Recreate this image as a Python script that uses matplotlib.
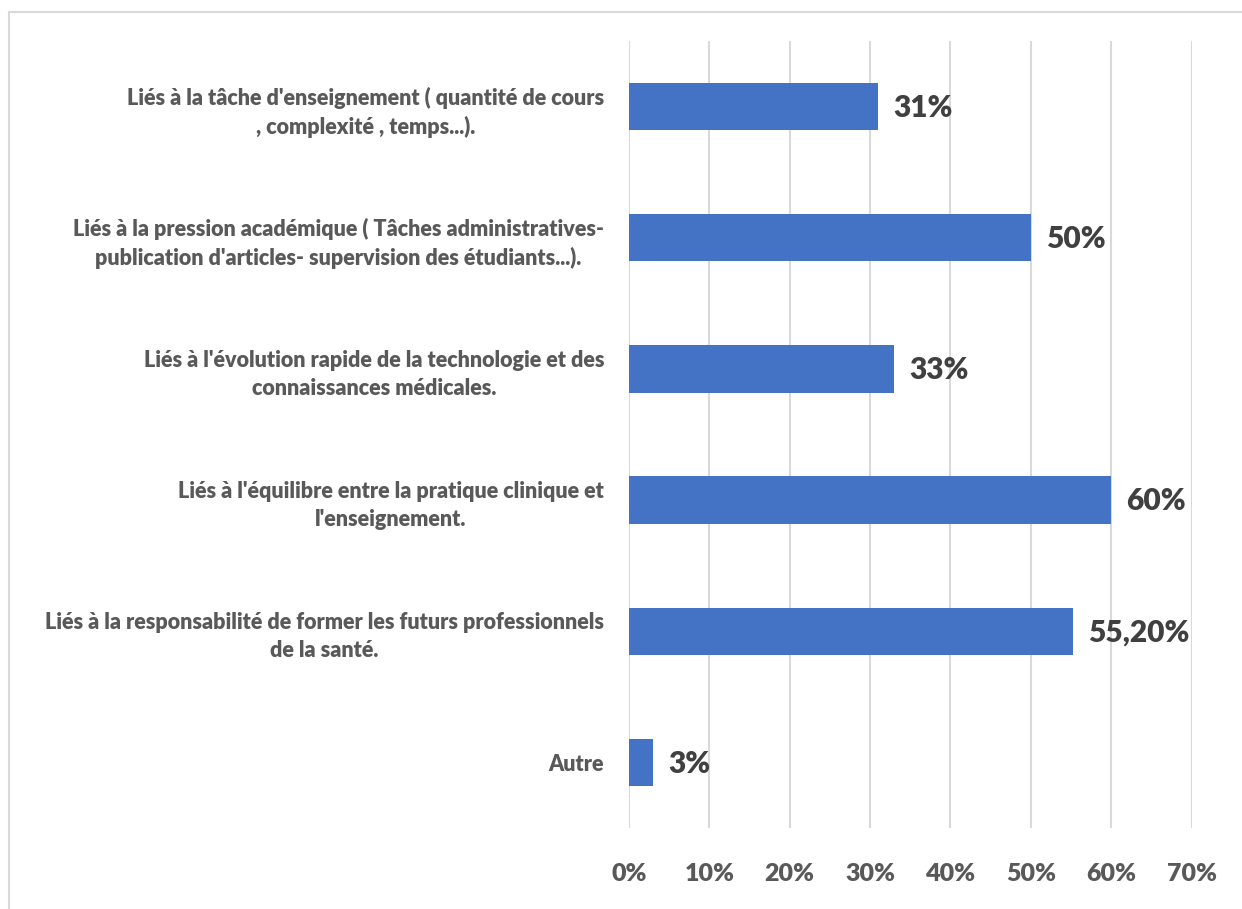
import matplotlib
matplotlib.use("Agg")
import matplotlib.pyplot as plt
from matplotlib.ticker import FuncFormatter
from matplotlib.patches import Rectangle

categories = [
    "Liés à la tâche d'enseignement ( quantité de cours\n, complexité , temps...).",
    "Liés à la pression académique ( Tâches administratives-\npublication d'articles- supervision des étudiants...).",
    "Liés à l'évolution rapide de la technologie et des\nconnaissances médicales.",
    "Liés à l'équilibre entre la pratique clinique et\nl'enseignement.",
    "Liés à la responsabilité de former les futurs professionnels\nde la santé.",
    "Autre",
]
values = [31, 50, 33, 60, 55.2, 3]
value_labels = ["31%", "50%", "33%", "60%", "55,20%", "3%"]
x_ticks = [0, 10, 20, 30, 40, 50, 60, 70]

plt.rcParams["font.family"] = ["Lato", "DejaVu Sans"]

W, H = 1242, 909
fig = plt.figure(figsize=(W / 100, H / 100), dpi=100)
fig.patch.set_facecolor("white")

# light frame around the chart area (top and left edges visible)
fig.add_artist(Rectangle((9 / W, -0.01), 1.05, 1 - 12 / H + 0.01,
                         transform=fig.transFigure, fill=False,
                         edgecolor="#D9D9D9", linewidth=1.5))

ax = fig.add_axes([629 / W, 1 - 828 / H, (1191.5 - 629) / W, (828 - 41) / H])

y = list(range(len(categories)))
ax.barh(y, values, height=0.36, color="#4472C4", zorder=3)
ax.set_ylim(len(categories) - 0.5, -0.5)
ax.set_xlim(0, 70)

for yi, v, lab in zip(y, values, value_labels):
    ax.annotate(lab, (v, yi), xytext=(11, -1), textcoords="offset points",
                ha="left", va="center", fontsize=21.5, fontweight="heavy",
                color="#404040")

ax.set_xticks(x_ticks)
ax.xaxis.set_major_formatter(FuncFormatter(lambda v, p: f"{int(v)}%"))
ax.grid(axis="x", color="#D9D9D9", linewidth=1.5, zorder=0)
ax.tick_params(axis="x", length=0, pad=25, labelsize=18, labelcolor="#595959")
for t in ax.get_xticklabels():
    t.set_fontweight("heavy")

ax.set_yticks(y)
ax.set_yticklabels(categories, fontsize=15.5, fontweight="heavy",
                   color="#595959", multialignment="center",
                   linespacing=1.4)
ax.tick_params(axis="y", length=0, pad=18)

for s in ax.spines.values():
    s.set_visible(False)

fig.savefig("out.png", dpi=100, facecolor="white")
